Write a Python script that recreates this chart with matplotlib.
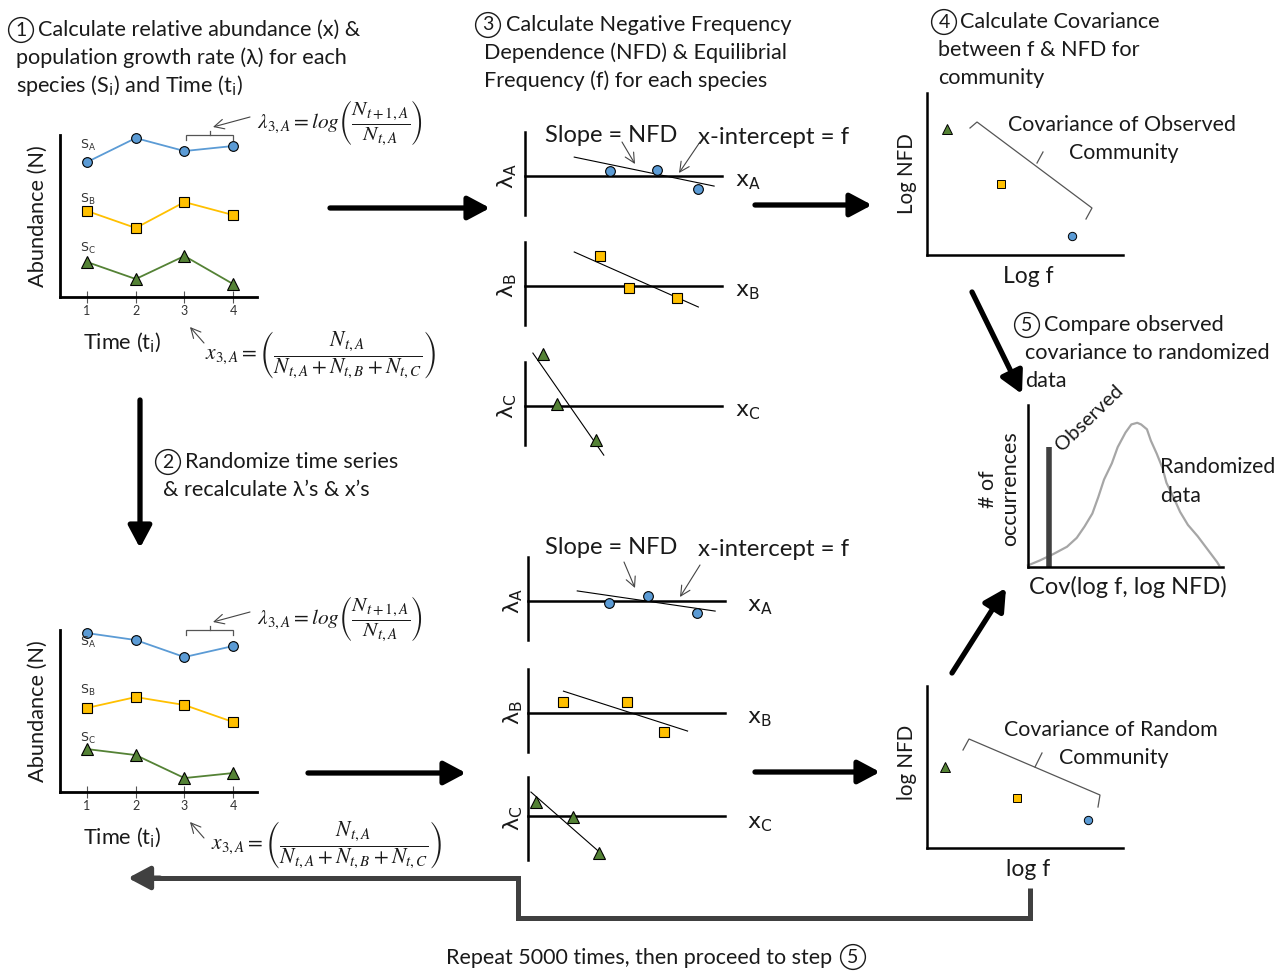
import matplotlib
matplotlib.use("Agg")
import matplotlib.pyplot as plt

W, H = 1285, 972

# ---------------------------------------------------------------------------
# Values (arbitrary units)
# ---------------------------------------------------------------------------
time_steps = [1, 2, 3, 4]

# step 1: observed abundance time series
obs_sa = [8.33, 9.81, 9.01, 9.32]
obs_sb = [5.31, 4.26, 5.86, 5.06]
obs_sc = [2.16, 1.11, 2.53, 0.80]

# step 2: randomized abundance time series
rnd_sa = [9.81, 9.38, 8.33, 9.01]
rnd_sb = [5.19, 5.86, 5.37, 4.32]
rnd_sc = [2.65, 2.28, 0.86, 1.17]

# step 3: relative abundance (x) vs growth rate (lambda), observed
obs_x_a = [0.43, 0.67, 0.88]
obs_lam_a = [0.12, 0.14, -0.31]
obs_x_b = [0.38, 0.53, 0.77]
obs_lam_b = [0.71, -0.05, -0.29]
obs_x_c = [0.09, 0.16, 0.36]
obs_lam_c = [1.24, 0.05, -0.81]
# fitted NFD lines (end points)
obs_fit_x_a = [0.25, 0.96]
obs_fit_lam_a = [0.45, -0.24]
obs_fit_x_b = [0.25, 0.88]
obs_fit_lam_b = [0.81, -0.50]
obs_fit_x_c = [0.04, 0.40]
obs_fit_lam_c = [1.26, -1.17]

# step 3 on randomized data
rnd_x_a = [0.41, 0.61, 0.86]
rnd_lam_a = [-0.05, 0.12, -0.29]
rnd_x_b = [0.18, 0.50, 0.69]
rnd_lam_b = [0.26, 0.26, -0.45]
rnd_x_c = [0.04, 0.23, 0.36]
rnd_lam_c = [0.33, -0.02, -0.88]
rnd_fit_x_a = [0.25, 0.95]
rnd_fit_lam_a = [0.24, -0.24]
rnd_fit_x_b = [0.18, 0.81]
rnd_fit_lam_b = [0.52, -0.43]
rnd_fit_x_c = [0.015, 0.38]
rnd_fit_lam_c = [0.57, -0.93]

# step 4: log f vs log NFD, species order C, B, A
species_order = ["C", "B", "A"]
obs_log_f = [0.10, 0.38, 0.74]
obs_log_nfd = [0.78, 0.44, 0.12]
rnd_log_f = [0.09, 0.46, 0.82]
rnd_log_nfd = [0.50, 0.31, 0.17]

# step 5: distribution of randomized covariances
cov_grid = [0.00, 0.06, 0.13, 0.20, 0.25, 0.29, 0.33, 0.36, 0.39, 0.43,
            0.46, 0.50, 0.53, 0.56, 0.58, 0.61, 0.63, 0.66, 0.69, 0.71,
            0.75, 0.78, 0.82, 0.87, 0.92, 0.97, 0.98]
cov_density = [0.01, 0.04, 0.08, 0.125, 0.18, 0.25, 0.33, 0.43, 0.54, 0.64,
               0.74, 0.83, 0.88, 0.89, 0.88, 0.85, 0.78, 0.70, 0.61, 0.52,
               0.42, 0.34, 0.26, 0.19, 0.11, 0.03, 0.01]
cov_observed = 0.108
cov_observed_height = 0.74

SPECIES = {
    "A": dict(marker="o", fc="#5B9BD5", ms=7.0),
    "B": dict(marker="s", fc="#FFC000", ms=6.5),
    "C": dict(marker="^", fc="#548235", ms=8.0),
}

plt.rcParams["font.family"] = ["Lato", "DejaVu Sans"]

fig = plt.figure(figsize=(W / 100, H / 100), dpi=100)


def px_axes(x0, y0, x1, y1):
    ax = fig.add_axes([x0 / W, 1 - y1 / H, (x1 - x0) / W, (y1 - y0) / H])
    ax.set_facecolor("none")
    return ax


def time_panel(rect, series):
    ax = px_axes(*rect)
    for vals, sp in zip(series, "ABC"):
        st = SPECIES[sp]
        ax.plot(time_steps, vals, color=st["fc"], lw=1.3, marker=st["marker"],
                ms=st["ms"], mfc=st["fc"], mec="black", mew=0.8,
                clip_on=False, zorder=3)
    ax.set_xlim(0.445, 4.49)
    ax.set_ylim(0, 10)
    for s in ("top", "right"):
        ax.spines[s].set_visible(False)
    for s in ("left", "bottom"):
        ax.spines[s].set_linewidth(2.0)
    ax.set_xticks(time_steps)
    ax.set_yticks([])
    ax.tick_params(axis="x", direction="inout", length=9, width=0.8,
                   color="#555", labelsize=9, labelcolor="#333", pad=1.5)
    return ax


def lam_panel(rect, ylim, xs, lams, fx, flam, sp):
    ax = px_axes(*rect)
    st = SPECIES[sp]
    ax.plot(fx, flam, color="black", lw=0.8, clip_on=False, zorder=2)
    ax.plot(xs, lams, ls="none", marker=st["marker"], ms=st["ms"],
            mfc=st["fc"], mec="black", mew=0.8, clip_on=False, zorder=3)
    ax.set_xlim(0, 1)
    ax.set_ylim(*ylim)
    ax.spines["top"].set_visible(False)
    ax.spines["right"].set_visible(False)
    ax.spines["bottom"].set_position(("data", 0))
    ax.spines["left"].set_linewidth(1.8)
    ax.spines["bottom"].set_linewidth(1.8)
    ax.set_xticks([])
    ax.set_yticks([])
    return ax


def scatter_panel(rect, log_f, log_nfd):
    ax = px_axes(*rect)
    for xv, yv, sp in zip(log_f, log_nfd, species_order):
        st = SPECIES[sp]
        ax.plot([xv], [yv], ls="none", marker=st["marker"], ms=st["ms"] - 1.0,
                mfc=st["fc"], mec="black", mew=0.7, clip_on=False)
    ax.set_xlim(0, 1)
    ax.set_ylim(0, 1)
    for s in ("top", "right"):
        ax.spines[s].set_visible(False)
    for s in ("left", "bottom"):
        ax.spines[s].set_linewidth(1.8)
    ax.set_xticks([])
    ax.set_yticks([])
    return ax


# --- step 1 / step 2 time series ---
time_panel((60, 135, 257, 297), [obs_sa, obs_sb, obs_sc])
time_panel((60, 630, 257, 792), [rnd_sa, rnd_sb, rnd_sc])

# --- step 3 regressions ---
top_ylim = (-39 / 42, 44 / 42)
lam_panel((525, 132, 722, 215), top_ylim, obs_x_a, obs_lam_a, obs_fit_x_a, obs_fit_lam_a, "A")
lam_panel((525, 242, 722, 325), top_ylim, obs_x_b, obs_lam_b, obs_fit_x_b, obs_fit_lam_b, "B")
lam_panel((525, 362, 722, 445), top_ylim, obs_x_c, obs_lam_c, obs_fit_x_c, obs_fit_lam_c, "C")
lam_panel((528, 557, 725, 640), top_ylim, rnd_x_a, rnd_lam_a, rnd_fit_x_a, rnd_fit_lam_a, "A")
lam_panel((528, 669, 725, 752), top_ylim, rnd_x_b, rnd_lam_b, rnd_fit_x_b, rnd_fit_lam_b, "B")
lam_panel((528, 777, 725, 860), (-44 / 42, 39 / 42), rnd_x_c, rnd_lam_c, rnd_fit_x_c, rnd_fit_lam_c, "C")

# --- step 4 scatter ---
scatter_panel((927, 93, 1123, 255), obs_log_f, obs_log_nfd)
scatter_panel((927, 686, 1123, 848), rnd_log_f, rnd_log_nfd)

# --- step 5 distribution ---
hx = px_axes(1028, 405, 1223, 567)
hx.plot(cov_grid, cov_density, color="#A6A6A6", lw=1.6, clip_on=False,
        solid_joinstyle="round")
hx.vlines(cov_observed, 0, cov_observed_height, color="#404040", lw=4.0)
hx.set_xlim(0, 1)
hx.set_ylim(0, 1)
for s in ("top", "right"):
    hx.spines[s].set_visible(False)
for s in ("left", "bottom"):
    hx.spines[s].set_linewidth(1.8)
hx.set_xticks([])
hx.set_yticks([])

# ---------------------------------------------------------------------------
# Overlay: text, arrows, brackets (pixel coordinates)
# ---------------------------------------------------------------------------
ov = fig.add_axes([0, 0, 1, 1])
ov.set_xlim(0, W)
ov.set_ylim(H, 0)
ov.axis("off")

TXT = "#1a1a1a"
HEAD = 15.6


def txt(x, y, s, size=HEAD, **kw):
    kw.setdefault("va", "center")
    kw.setdefault("color", TXT)
    ov.text(x, y, s, fontsize=size, math_fontfamily="dejavusans", **kw)


def step_num(x, y, n):
    ov.text(x, y, str(n), fontsize=14, ha="center", va="center", color=TXT,
            bbox=dict(boxstyle="circle,pad=0.2", fc="none", ec="#1a1a1a", lw=1.0))


def big_arrow(x0, y0, x1, y1, color="black", lw=3.8):
    ov.annotate("", xy=(x1, y1), xytext=(x0, y0),
                arrowprops=dict(arrowstyle="-|>,head_length=0.6,head_width=0.32",
                                lw=lw, color=color, mutation_scale=22,
                                shrinkA=0, shrinkB=0))


def thin_arrow(x0, y0, x1, y1):
    ov.annotate("", xy=(x1, y1), xytext=(x0, y0),
                arrowprops=dict(arrowstyle="->,head_length=0.5,head_width=0.25",
                                lw=0.8, color="#444", mutation_scale=14,
                                shrinkA=0, shrinkB=0))


def grey_line(xs, ys):
    ov.plot(xs, ys, color="#555", lw=0.9, solid_joinstyle="miter")


LAM_EQ = r"$\lambda_{3,A} = log\left(\dfrac{N_{t+1,A}}{N_{t,A}}\right)$"
X_EQ = r"$x_{3,A} = \left(\dfrac{N_{t,A}}{N_{t,A} + N_{t,B} + N_{t,C}}\right)$"

# step 1
step_num(21, 30, 1)
txt(38, 30, "Calculate relative abundance (x) &")
txt(16, 58, "population growth rate (λ) for each")
txt(16, 86, r"species (S$_\mathrm{i}$) and Time (t$_\mathrm{i}$)")

for yoff, (ya, yb, yc), lam_y, x_pos in [(0, (145, 199, 248), 123, (205, 355)),
                                         (495, (642, 690, 738), 619, (211, 845))]:
    txt(80, ya, r"$\mathrm{S}_\mathrm{A}$", size=9, color="#333")
    txt(80, yb, r"$\mathrm{S}_\mathrm{B}$", size=9, color="#333")
    txt(80, yc, r"$\mathrm{S}_\mathrm{C}$", size=9, color="#333")
    txt(38, 216 + yoff, "Abundance (N)", size=15.7, rotation=90, ha="center")
    txt(83, 343 + yoff, r"Time (t$_\mathrm{i}$)", size=15.7)
    ov.text(257, lam_y, LAM_EQ, fontsize=15.4, va="center", math_fontfamily="stix", color=TXT)
    ov.text(x_pos[0], x_pos[1], X_EQ, fontsize=15.5, va="center",
            math_fontfamily="stix", color=TXT)
    by = 135 + yoff
    grey_line([186, 186, 233, 233], [by + 5, by, by, by + 5])
    grey_line([210, 210], [by, by - 4])
    thin_arrow(250, by - 18, 213, by - 8)
    thin_arrow(204, 343 + yoff, 190, 327 + yoff)

# step 2
big_arrow(140, 400, 140, 548)
step_num(168, 462, 2)
txt(185, 462, "Randomize time series")
txt(163, 490, "& recalculate λ’s & x’s")

# step 3
step_num(488, 25, 3)
txt(506, 25, "Calculate Negative Frequency")
txt(484, 53, "Dependence (NFD) & Equilibrial")
txt(484, 81, "Frequency (f) for each species")

big_arrow(330, 208, 490, 208)
big_arrow(308, 773, 466, 773)
big_arrow(755, 205, 872, 205)
big_arrow(755, 772, 880, 772)

for dx, ys, slope_y in [(0, (176, 286, 406), 135), (3, (601, 713, 818), 547)]:
    for yy, sp in zip(ys, "ABC"):
        txt(507 + dx * 2, yy, r"$\mathrm{\lambda}_\mathrm{%s}$" % sp, size=16,
            rotation=90, ha="center")
        txt(735 + dx * 4, yy + 6, r"$\mathrm{x}_\mathrm{%s}$" % sp, size=16)
    txt(545, slope_y, "Slope = NFD", size=17)
    txt(698, slope_y + 2, "x-intercept = f", size=17.3)

thin_arrow(622, 142, 635, 164)
thin_arrow(700, 142, 679, 173)
thin_arrow(624, 562, 635, 588)
thin_arrow(700, 565, 680, 597)

# step 4
step_num(944, 22, 4)
txt(960, 22, "Calculate Covariance")
txt(938, 50, "between f & NFD for")
txt(938, 78, "community")
txt(907, 174, "Log NFD", size=14.8, rotation=90, ha="center")
txt(1028, 276, "Log f", size=16.5, ha="center")
grey_line([970, 977, 1092, 1086], [128, 122, 208, 219])
grey_line([1037, 1043], [163, 152])
txt(1122, 125, "Covariance of Observed", size=15.4, ha="center")
txt(1124, 153, "Community", size=15.4, ha="center")

txt(907, 762, "log NFD", size=14.8, rotation=90, ha="center")
txt(1028, 869, "log f", size=16.5, ha="center")
grey_line([963, 969, 1100, 1098], [750, 739, 795, 807])
grey_line([1035, 1042], [767, 753])
txt(1111, 730, "Covariance of Random", size=15.4, ha="center")
txt(1114, 758, "Community", size=15.4, ha="center")

# step 5
big_arrow(972, 292, 1022, 394)
big_arrow(952, 673, 1006, 588)
step_num(1027, 325, 5)
txt(1044, 325, "Compare observed")
txt(1025, 353, "covariance to randomized")
txt(1025, 381, "data")
txt(999, 489, "# of\noccurrences", size=15.5, rotation=90, ha="center",
    multialignment="center", linespacing=1.15)
txt(1128, 587, "Cov(log f, log NFD)", size=17, ha="center")
ov.text(1062, 452, "Observed", fontsize=14.5, rotation=44, rotation_mode="anchor",
        ha="left", va="baseline", color=TXT)
txt(1160, 467, "Randomized", size=15.3)
txt(1160, 496, "data", size=15.3)

# repeat loop
ov.plot([1030, 1030, 518, 518, 150], [888, 918, 918, 878, 878],
        color="#404040", lw=3.6, solid_joinstyle="miter", solid_capstyle="butt")
big_arrow(160, 878, 128, 878, color="#404040", lw=3.6)
txt(639, 958, "Repeat 5000 times, then proceed to step", size=15.5, ha="center")
step_num(853, 957, 5)

fig.savefig("out.png", dpi=100)
